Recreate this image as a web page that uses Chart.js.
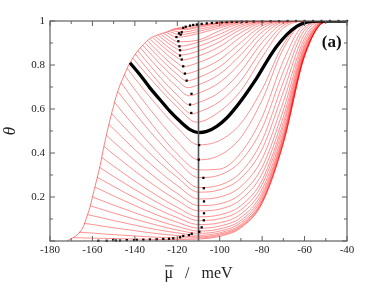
<!DOCTYPE html>
<html><head><meta charset="utf-8">
<script src="https://cdn.jsdelivr.net/npm/chart.js@4/dist/chart.umd.min.js"></script>
<style>html,body{margin:0;padding:0;background:#fff;}canvas{display:block;}</style>
</head><body>
<canvas id="c" width="374" height="289"></canvas>
<script>
// ---- data ----
const xRange = [-180, -40];
const yRange = [0, 1];
const xStep = 20, yStep = 0.2;
const markerMu = -110;
const xTitle = 'μ   /   meV';

// left envelope where the red curves start (mu, theta)
const envelopeMu    = [-172,-170,-167,-164.3,-163,-161.1,-160,-158,-156,-154.9,-152.5,-150,-148.6,-145,-142.3,-139,-136,-132.9,-128.9,-125,-121.8,-118,-114,-110,-100,-90,-80,-40];
const envelopeTheta = [0,0.01,0.03,0.065,0.10,0.156,0.20,0.278,0.36,0.415,0.52,0.615,0.665,0.755,0.81,0.86,0.893,0.92,0.938,0.95,0.963,0.970,0.976,0.981,0.993,0.999,1,1];

// red curves below the bold one: [mu, theta] points
const lowerCurves = [
 [[-169,0.015],[-160,0.013],[-150,0.011],[-140,0.009],[-130,0.007],[-120,0.007],[-110,0.009],[-100,0.021],[-90,0.060],[-80,0.171],[-70,0.443],[-60,0.841],[-50,0.997],[-40,1]],
 [[-166.3,0.04],[-160,0.036],[-150,0.029],[-140,0.023],[-130,0.017],[-120,0.014],[-110,0.014],[-100,0.026],[-90,0.064],[-80,0.175],[-70,0.446],[-60,0.841],[-50,0.997],[-40,1]],
 [[-163.8,0.08],[-160,0.075],[-150,0.060],[-140,0.047],[-130,0.034],[-120,0.025],[-110,0.019],[-100,0.031],[-90,0.069],[-80,0.180],[-70,0.449],[-60,0.842],[-50,0.997],[-40,1]],
 [[-162.4,0.12],[-160,0.115],[-150,0.093],[-140,0.072],[-130,0.052],[-120,0.037],[-110,0.026],[-100,0.037],[-90,0.075],[-80,0.185],[-70,0.453],[-60,0.843],[-50,0.997],[-40,1]],
 [[-161,0.16],[-160,0.157],[-150,0.127],[-140,0.099],[-130,0.073],[-120,0.050],[-110,0.035],[-100,0.045],[-90,0.084],[-80,0.195],[-70,0.462],[-60,0.847],[-50,0.997],[-40,1]],
 [[-160,0.20],[-150,0.163],[-140,0.128],[-130,0.095],[-120,0.066],[-110,0.045],[-100,0.055],[-90,0.094],[-80,0.206],[-70,0.471],[-60,0.851],[-50,0.997],[-40,1]],
 [[-158.8,0.245],[-150,0.205],[-140,0.161],[-130,0.120],[-120,0.085],[-110,0.058],[-100,0.068],[-90,0.107],[-80,0.219],[-70,0.482],[-60,0.854],[-50,0.997],[-40,1]],
 [[-157.8,0.29],[-150,0.248],[-140,0.196],[-130,0.148],[-120,0.106],[-110,0.075],[-100,0.083],[-90,0.123],[-80,0.236],[-70,0.498],[-60,0.862],[-50,0.997],[-40,1]],
 [[-156.7,0.335],[-150,0.293],[-140,0.234],[-130,0.178],[-120,0.129],[-110,0.093],[-100,0.101],[-90,0.142],[-80,0.257],[-70,0.519],[-60,0.872],[-50,0.998],[-40,1]],
 [[-155.7,0.38],[-150,0.340],[-140,0.272],[-130,0.209],[-120,0.153],[-110,0.110],[-100,0.119],[-90,0.161],[-80,0.277],[-70,0.539],[-60,0.881],[-50,0.998],[-40,1]],
 [[-154.6,0.43],[-150,0.394],[-140,0.318],[-130,0.247],[-120,0.185],[-110,0.137],[-100,0.145],[-90,0.189],[-80,0.306],[-70,0.564],[-60,0.891],[-50,0.998],[-40,1]],
 [[-153.4,0.48],[-150,0.450],[-140,0.365],[-130,0.286],[-120,0.216],[-110,0.161],[-100,0.169],[-90,0.215],[-80,0.336],[-70,0.595],[-60,0.906],[-50,0.999],[-40,1]],
 [[-152.2,0.53],[-150,0.509],[-140,0.415],[-130,0.328],[-120,0.252],[-110,0.191],[-100,0.200],[-90,0.248],[-80,0.374],[-70,0.633],[-60,0.922],[-50,0.999],[-40,1]],
 [[-151,0.58],[-150,0.569],[-140,0.467],[-130,0.372],[-120,0.289],[-110,0.222],[-100,0.233],[-90,0.286],[-80,0.418],[-70,0.678],[-60,0.941],[-50,1],[-40,1]],
 [[-149.6,0.63],[-140,0.519],[-130,0.411],[-120,0.315],[-110,0.243],[-100,0.254],[-90,0.313],[-80,0.458],[-70,0.723],[-60,0.959],[-50,1],[-40,1]],
 [[-148.1,0.68],[-140,0.581],[-130,0.466],[-120,0.365],[-110,0.288],[-100,0.300],[-90,0.364],[-80,0.513],[-70,0.770],[-60,0.972],[-50,1],[-40,1]],
 [[-146.5,0.72],[-140,0.633],[-130,0.507],[-120,0.396],[-110,0.323],[-100,0.327],[-90,0.401],[-80,0.564],[-70,0.819],[-60,0.984],[-50,1],[-40,1]],
 [[-145,0.755],[-140,0.688],[-130,0.564],[-120,0.452],[-110,0.369],[-100,0.390],[-90,0.471],[-80,0.641],[-70,0.874],[-60,0.993],[-50,1],[-40,1]],
 [[-143.6,0.785],[-140,0.739],[-130,0.621],[-120,0.515],[-110,0.437],[-100,0.457],[-90,0.535],[-80,0.690],[-70,0.894],[-60,0.994],[-50,1],[-40,1]]
];

// red curves above the bold one
const upperCurves = [
 [[-141,0.832],[-140,0.820],[-130,0.709],[-120,0.609],[-111,0.540],[-100,0.589],[-90,0.684],[-80,0.836],[-70,0.968],[-60,0.999],[-50,1],[-40,1]],
 [[-139.8,0.85],[-130,0.735],[-120,0.632],[-113,0.578],[-110,0.586],[-100,0.634],[-90,0.729],[-80,0.872],[-70,0.980],[-60,1],[-40,1]],
 [[-138.6,0.865],[-130,0.765],[-120,0.663],[-114,0.618],[-110,0.629],[-100,0.677],[-90,0.772],[-80,0.903],[-70,0.989],[-60,1],[-40,1]],
 [[-137.4,0.878],[-130,0.796],[-120,0.699],[-114.5,0.660],[-110,0.672],[-100,0.721],[-90,0.812],[-80,0.930],[-70,0.994],[-60,1],[-40,1]],
 [[-136.2,0.889],[-130,0.824],[-120,0.731],[-115,0.697],[-110,0.710],[-100,0.759],[-90,0.847],[-80,0.950],[-70,0.997],[-60,1],[-40,1]],
 [[-135,0.899],[-130,0.848],[-120,0.757],[-115.6,0.728],[-110,0.743],[-100,0.792],[-90,0.876],[-80,0.966],[-70,0.999],[-60,1],[-40,1]],
 [[-133.8,0.908],[-130,0.870],[-120,0.782],[-116.4,0.760],[-110,0.777],[-100,0.824],[-90,0.903],[-80,0.978],[-70,0.999],[-60,1],[-40,1]],
 [[-132.6,0.916],[-130,0.892],[-120,0.809],[-117.2,0.793],[-110,0.811],[-100,0.856],[-90,0.928],[-80,0.987],[-70,1],[-40,1]],
 [[-131.4,0.923],[-130,0.911],[-125,0.869],[-120,0.834],[-117.9,0.823],[-110,0.841],[-100,0.884],[-90,0.947],[-80,0.993],[-70,1],[-40,1]],
 [[-130.2,0.929],[-125,0.886],[-120,0.851],[-118.7,0.845],[-110,0.864],[-100,0.906],[-90,0.962],[-80,0.996],[-70,1],[-40,1]],
 [[-129,0.935],[-125,0.904],[-120,0.871],[-118.9,0.866],[-110,0.885],[-100,0.924],[-90,0.973],[-80,0.998],[-70,1],[-40,1]],
 [[-127.8,0.94],[-125,0.919],[-120,0.888],[-119.2,0.885],[-110,0.904],[-100,0.940],[-90,0.982],[-80,0.999],[-70,1],[-40,1]],
 [[-126.6,0.945],[-125,0.935],[-119.6,0.906],[-110,0.9135],[-100,0.956],[-90,0.989],[-80,1],[-40,1]],
 [[-125.4,0.95],[-123,0.937],[-120.3,0.926],[-110,0.943],[-100,0.969],[-90,0.9935],[-80,1],[-40,1]],
 [[-124.2,0.954],[-122,0.946],[-119,0.938],[-110,0.9525],[-100,0.977],[-90,0.996],[-80,1],[-40,1]],
 [[-123,0.958],[-121,0.954],[-118.2,0.949],[-110,0.962],[-100,0.983],[-90,0.998],[-80,1],[-40,1]],
 [[-121.8,0.963],[-117.4,0.960],[-110,0.971],[-100,0.989],[-90,0.999],[-80,1],[-40,1]],
 [[-120,0.967],[-116.5,0.966],[-110,0.976],[-100,0.992],[-90,0.999],[-80,1],[-40,1]]
];

// bold black curve
const boldMu    = [-142.3,-137.6,-132.9,-128.1,-123.4,-118.7,-114,-110.1,-106.1,-101.4,-96.7,-92,-87.3,-82.5,-77.8,-73.1,-68.4,-63.7,-59,-54,-40];
const boldTheta = [0.81,0.756,0.696,0.642,0.589,0.544,0.506,0.493,0.498,0.521,0.559,0.612,0.673,0.741,0.817,0.885,0.938,0.976,0.995,1,1];

// black dots
const dotMu = [-157.2,-153.3,-150.2,-148.9,-147,-143.8,-140.4,-139.1,-136,-132.9,-129.7,-126.6,-123.9,-121.9,-118.7,-117.2,-114.5,-113.2,
  -109.6,-108.5,-107.5,-107.4,-107.4,-107.5,-107.7,-109.9,-109.7,
  -113.4,-114,-113.3,-115.6,-116.4,-117.2,-117.9,-118.7,-118.7,-119,-119.5,-120.4,-118.4,-117.9,-119.2,-117.2,
  -116,-114,-112.5,-110.8,-108.5,-106.1,-103.7,-101.4,-99,-96.7,-94.3,-92,-89.6,-87.3,-84,-80,-76,-72,-68,-64,-60,-56,-52,-48,-44,-40];
const dotTheta = [0.001,0.001,0.004,0.002,0.002,0.004,0.004,0.005,0.006,0.007,0.008,0.009,0.010,0.012,0.017,0.023,0.027,0.033,
  0.042,0.062,0.094,0.126,0.180,0.240,0.287,0.370,0.436,
  0.582,0.620,0.669,0.729,0.761,0.794,0.825,0.843,0.867,0.885,0.908,0.927,0.938,0.949,0.944,0.969,
  0.974,0.979,0.982,0.984,0.987,0.989,0.991,0.992,0.994,0.995,0.996,0.996,0.997,0.997,0.998,0.998,0.999,0.999,1,1,1,1,1,1,1,1];

// ---- chart ----
const pts = (xs, ys) => xs.map((x, i) => ({x: x, y: ys[i]}));
const pairs = c => c.map(p => ({x: p[0], y: p[1]}));
const RED = 'rgba(255,0,0,0.72)';
const datasets = [];
[...lowerCurves, ...upperCurves].forEach(c => datasets.push({
  data: pairs(c), borderColor: RED, borderWidth: 0.6, pointRadius: 0, pointHoverRadius: 0,
  cubicInterpolationMode: 'monotone', fill: false, order: 5
}));
datasets.push({data: pts(envelopeMu, envelopeTheta), borderColor: RED, borderWidth: 0.7, pointRadius: 0,
  pointHoverRadius: 0, cubicInterpolationMode: 'monotone', fill: false, order: 5});
datasets.push({data: pts(boldMu, boldTheta), borderColor: '#000', borderWidth: 3.3, pointRadius: 0,
  pointHoverRadius: 0, cubicInterpolationMode: 'monotone', fill: false, order: 3});
datasets.push({data: [{x: markerMu, y: yRange[0]}, {x: markerMu, y: yRange[1]}], borderColor: '#555',
  borderWidth: 1.6, pointRadius: 0, pointHoverRadius: 0, fill: false, order: 2});
datasets.push({data: pts(dotMu, dotTheta), showLine: false, pointStyle: 'rect', pointRadius: 1.6,
  pointHoverRadius: 1.6, backgroundColor: '#000', borderColor: '#000', borderWidth: 0, order: 1, clip: 4});

const TITLE_FONT = 16, TITLE_PAD = 6;
const frame = {
  id: 'frame',
  afterDatasetsDraw(chart) {
    const {ctx, chartArea: a, scales: {x, y}} = chart;
    ctx.save();
    ctx.strokeStyle = '#606060';
    ctx.lineWidth = 1.2;
    ctx.strokeRect(a.left, a.top, a.right - a.left, a.bottom - a.top);
    ctx.lineWidth = 1;
    const xt = x.ticks.map(t => t.value), yt = y.ticks.map(t => t.value);
    const tick = (x1, y1, x2, y2) => { ctx.beginPath(); ctx.moveTo(x1, y1); ctx.lineTo(x2, y2); ctx.stroke(); };
    xt.forEach((v, i) => {
      const px = x.getPixelForValue(v);
      tick(px, a.bottom, px, a.bottom - 5); tick(px, a.top, px, a.top + 5);
      if (i > 0) { const pm = x.getPixelForValue((v + xt[i - 1]) / 2);
        tick(pm, a.bottom, pm, a.bottom - 3); tick(pm, a.top, pm, a.top + 3); }
    });
    yt.forEach((v, i) => {
      const py = y.getPixelForValue(v);
      tick(a.left, py, a.left + 5, py); tick(a.right, py, a.right - 5, py);
      if (i > 0) { const pm = y.getPixelForValue((v + yt[i - 1]) / 2);
        tick(a.left, pm, a.left + 3, pm); tick(a.right, pm, a.right - 3, pm); }
    });
    ctx.fillStyle = '#111';
    ctx.font = 'bold 17px "Liberation Serif"';
    ctx.textAlign = 'right';
    ctx.textBaseline = 'middle';
    ctx.fillText('(a)', x.getPixelForValue(-42.5), y.getPixelForValue(0.9));
    // overline above the mu in the x title
    ctx.font = TITLE_FONT + 'px "Liberation Serif"';
    const w = ctx.measureText(xTitle).width, wm = ctx.measureText('μ').width;
    const cx = (a.left + a.right) / 2, x0 = cx - w / 2;
    const cy = x.bottom - TITLE_PAD - TITLE_FONT * 1.2 / 2;
    ctx.strokeStyle = '#222'; ctx.lineWidth = 1;
    tick(x0 + 0.5, cy - 7.5, x0 + wm + 0.5, cy - 7.5);
    ctx.restore();
  }
};

new Chart(document.getElementById('c'), {
  type: 'line',
  data: {datasets},
  options: {
    responsive: false, animation: false, devicePixelRatio: 1,
    layout: {padding: {top: 21, right: 27, left: 0, bottom: 0}},
    plugins: {legend: {display: false}, tooltip: {enabled: false}},
    scales: {
      x: {type: 'linear', min: xRange[0], max: xRange[1],
        afterFit: s => { s.height = 48; },
        grid: {display: false, drawTicks: false}, border: {display: false},
        ticks: {stepSize: xStep, padding: 3, color: '#222', font: {family: 'Liberation Serif', size: 11},
          maxRotation: 0, callback: v => String(v)},
        title: {display: true, text: xTitle, color: '#222', padding: {top: 0, bottom: TITLE_PAD},
          font: {family: 'Liberation Serif', size: TITLE_FONT}}},
      y: {type: 'linear', min: yRange[0], max: yRange[1],
        afterFit: s => { s.width = 50; },
        grid: {display: false, drawTicks: false}, border: {display: false},
        ticks: {stepSize: yStep, padding: 5, color: '#222', font: {family: 'Liberation Serif', size: 11},
          callback: v => (Math.abs(v) < 1e-9 ? '' : (Math.abs(v - 1) < 1e-9 ? '1' : v.toFixed(1)))},
        title: {display: true, text: 'θ', color: '#222', padding: {top: 0, bottom: 2},
          font: {family: 'Liberation Serif', size: 17, style: 'italic'}}}
    }
  },
  plugins: [frame]
});
</script>
</body></html>
